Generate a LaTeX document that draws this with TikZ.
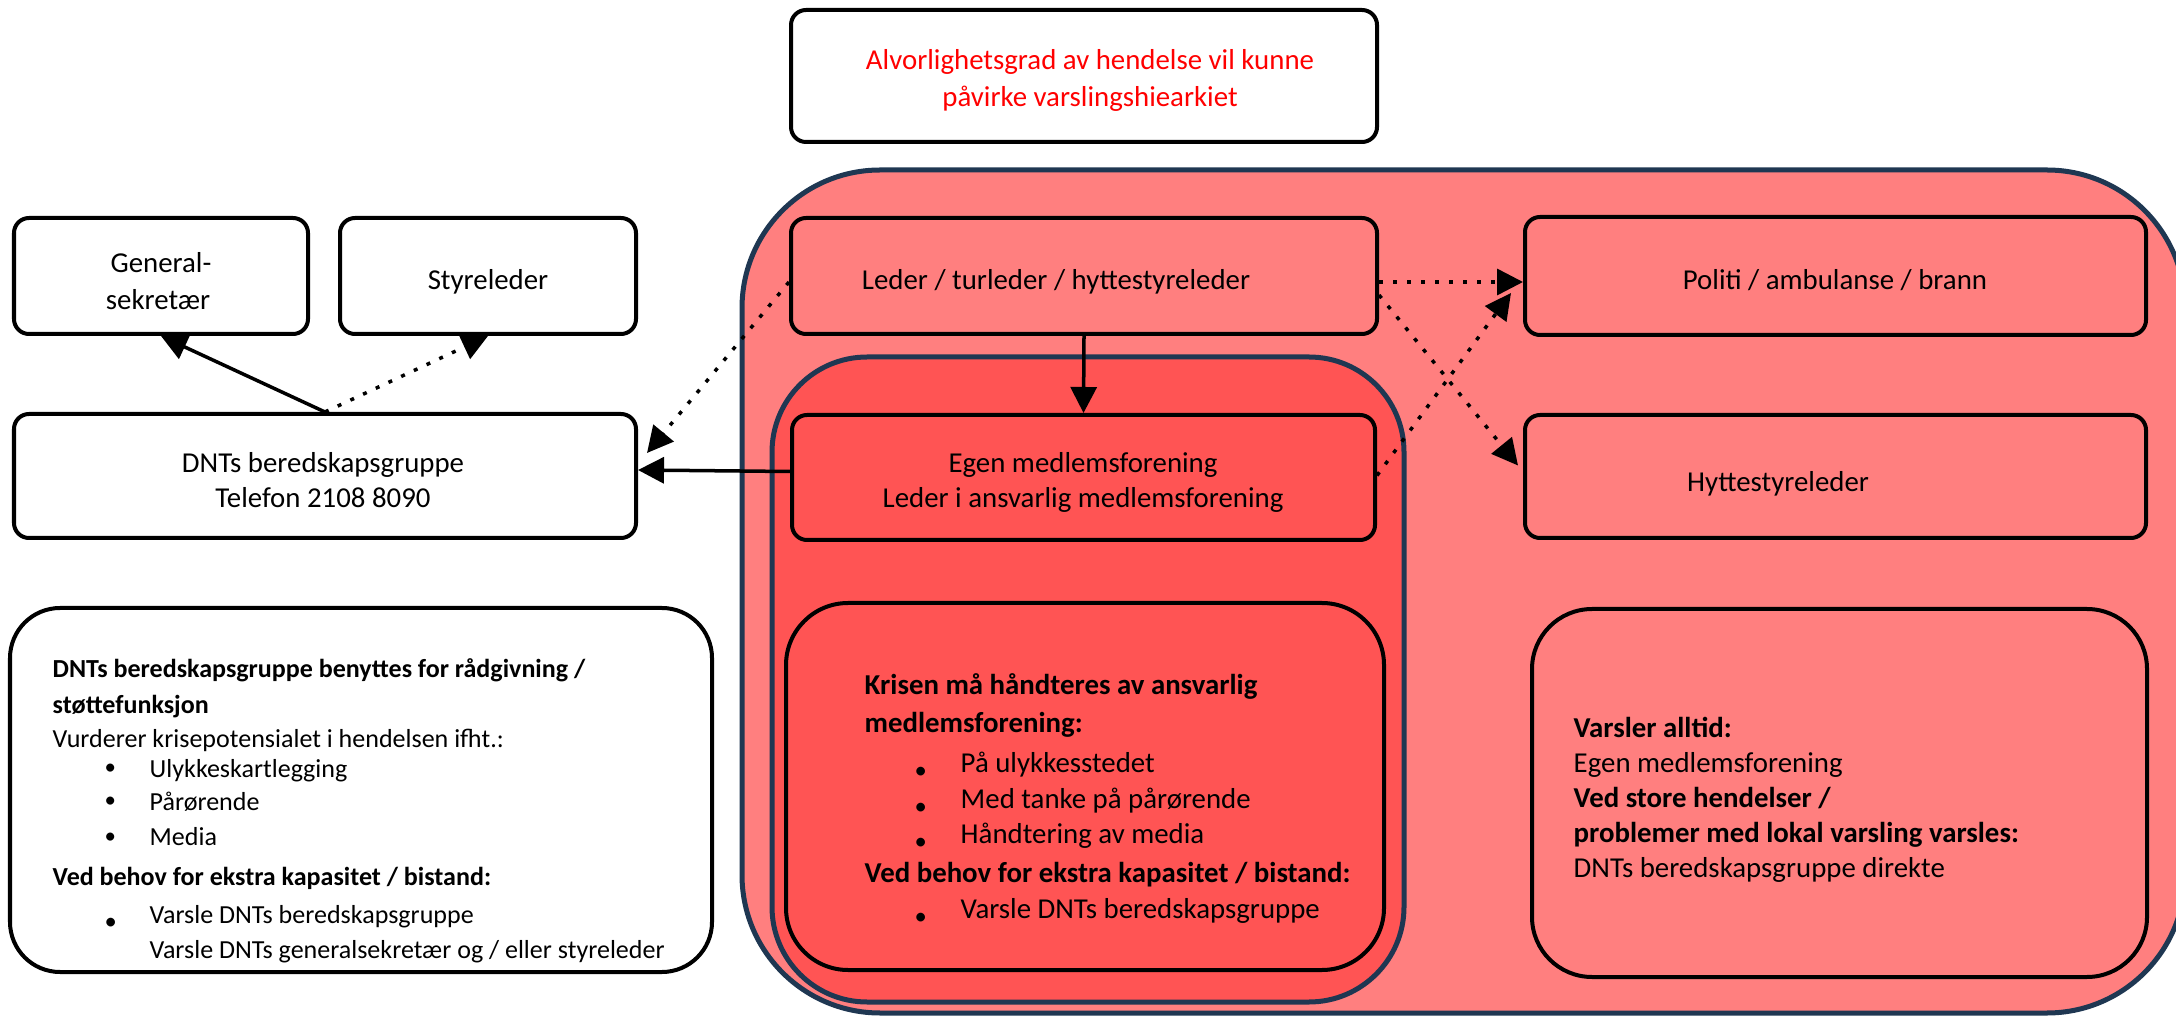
\documentclass[tikz,border=0pt]{standalone}
\usepackage{fontspec}
\setmainfont{Carlito}
\usetikzlibrary{arrows.meta,fit}
\definecolor{outerred}{HTML}{FF7F7F}
\definecolor{innerred}{HTML}{FF5454}
\definecolor{navy}{HTML}{1F3752}
\definecolor{alertred}{HTML}{FF0000}
\pgfdeclarelayer{bg}\pgfdeclarelayer{mid}\pgfsetlayers{bg,mid,main}
\newcommand\bul[1]{\makebox[#1][l]{\raisebox{0.02cm}{\fontsize{6.5}{7}\selectfont •}}}
\newcommand\lbul[1]{\makebox[#1][l]{\raisebox{-0.06cm}{\fontsize{7}{7}\selectfont •}}}
\begin{document}
\begin{tikzpicture}[x=0.01cm,y=-0.01cm,
  box/.style={draw=black, line width=0.04cm, rounded corners=0.15cm, inner sep=0pt},
  cont/.style={draw=navy, line width=0.05cm, inner sep=0pt},
  txt/.style={font=\fontsize{8.2}{10}\selectfont, inner sep=0pt, anchor=base},
  ltxt/.style={txt, anchor=base west},
  btxt/.style={ltxt, font=\fontsize{8.2}{10}\selectfont\bfseries},
  stxt/.style={ltxt, font=\fontsize{7.4}{10}\selectfont},
  sbtxt/.style={ltxt, font=\fontsize{7.4}{10}\selectfont\bfseries},
  arr/.style={line width=0.035cm, -{Triangle[length=0.26cm,width=0.26cm]}},
  dots/.style={arr, dash pattern=on 0.04cm off 0.1cm}]
\useasboundingbox (0,0) rectangle (2176,1016);

% containers
\begin{pgfonlayer}{bg}
\node[cont, fill=outerred, rounded corners=1.38cm, fit={(742,170)(2185,1013)}] (outer) {};
\node[cont, fill=innerred, rounded corners=0.95cm, fit={(772,357)(1404,1002)}] (inner) {};
\end{pgfonlayer}

% boxes
\node[box, fill=white, fit={(791,10)(1377,142)}] (top) {};
\node[box, fill=white, fit={(14,218)(308,334)}] (gen) {};
\node[box, fill=white, fit={(340,218)(636,334)}] (sty) {};
\node[box, fill=white, fit={(14,414)(636,538)}] (dnt) {};
\node[box, fill=white, rounded corners=0.5cm, fit={(10,608)(712,972)}] (bl) {};
\node[box, fit={(791,218)(1377,334)}] (led) {};
\node[box, fit={(1525,217)(2146,335)}] (pol) {};
\node[box, fit={(1525,415)(2146,538)}] (hyt) {};
\node[box, fill=innerred, fit={(792,415)(1375,540)}] (egen) {};
\node[box, fill=innerred, rounded corners=0.62cm, fit={(786,603)(1384,970)}] (kri) {};
\node[box, rounded corners=0.6cm, fit={(1532,609)(2147,977)}] (var) {};

% texts
\node[txt, text=alertred] (t1) at (1090,70) {Alvorlighetsgrad av hendelse vil kunne};
\node[txt, text=alertred] (t2) at (1090,107) {påvirke varslingshiearkiet};
\node[txt] (g1) at (161,273) {General-};
\node[txt] (g2) at (158,310) {sekretær};
\node[txt] (s1) at (488,290) {Styreleder};
\node[txt] (d1) at (323,473) {DNTs beredskapsgruppe};
\node[txt] (d2) at (323,508) {Telefon 2108 8090};
\node[txt] (l1) at (1056,290) {Leder / turleder / hyttestyreleder};
\node[txt] (e1) at (1083,473) {Egen medlemsforening};
\node[txt] (e2) at (1083,508) {Leder i ansvarlig medlemsforening};
\node[txt] (p1) at (1835,290) {Politi / ambulanse / brann};
\node[txt] (h1) at (1778,492) {Hyttestyreleder};

\node[sbtxt] (b1) at (52,678) {DNTs beredskapsgruppe benyttes for rådgivning /};
\node[sbtxt] (b2) at (52,713) {støttefunksjon};
\node[stxt] (b3) at (52,747) {Vurderer krisepotensialet i hendelsen ifht.:};
\node[stxt] (b4) at (104,777) {\bul{0.45cm}Ulykkeskartlegging};
\node[stxt] (b5) at (104,810) {\bul{0.45cm}Pårørende};
\node[stxt] (b6) at (104,845) {\bul{0.45cm}Media};
\node[sbtxt] (b7) at (52,885) {Ved behov for ekstra kapasitet / bistand:};
\node[stxt] (b8) at (104,923) {\lbul{0.45cm}Varsle DNTs beredskapsgruppe};
\node[stxt] (b9) at (149,958) {Varsle DNTs generalsekretær og / eller styreleder};

\node[btxt] (k1) at (864,695) {Krisen må håndteres av ansvarlig};
\node[btxt] (k2) at (864,732) {medlemsforening:};
\node[ltxt] (k3) at (914,772) {\lbul{0.46cm}På ulykkesstedet};
\node[ltxt] (k4) at (914,808) {\lbul{0.46cm}Med tanke på pårørende};
\node[ltxt] (k5) at (914,843) {\lbul{0.46cm}Håndtering av media};
\node[btxt] (k6) at (864,882) {Ved behov for ekstra kapasitet / bistand:};
\node[ltxt] (k7) at (914,918) {\lbul{0.46cm}Varsle DNTs beredskapsgruppe};

\node[btxt] (v1) at (1573,737) {Varsler alltid:};
\node[ltxt] (v2) at (1573,772) {Egen medlemsforening};
\node[btxt] (v3) at (1573,807) {Ved store hendelser /};
\node[btxt] (v4) at (1573,842) {problemer med lokal varsling varsles:};
\node[ltxt] (v5) at (1573,877) {DNTs beredskapsgruppe direkte};

% connectors
\begin{pgfonlayer}{mid}
\draw[arr] (led.south) -- (egen.north);
\draw[arr] ([yshift=0.6mm]egen.west) -- ([yshift=0.6mm]dnt.east);
\draw[dots] ([yshift=-0.6mm]led.west) -- ([xshift=0.9mm,yshift=2.3mm]dnt.east);
\draw[dots] ([yshift=-0.6mm]led.east) -- ([yshift=-0.6mm]pol.west);
\draw[dots] ([yshift=-1.9mm]led.east) -- ([xshift=-0.5mm,yshift=1.1mm]hyt.west);
\draw[dots] ([yshift=0.2mm]egen.east) -- ([xshift=-1.2mm,yshift=-1.7mm]pol.west);
\draw[arr] (dnt.north) -- (gen.south);
\draw[dots] (dnt.north) -- (sty.south);
\end{pgfonlayer}
\end{tikzpicture}
\end{document}
